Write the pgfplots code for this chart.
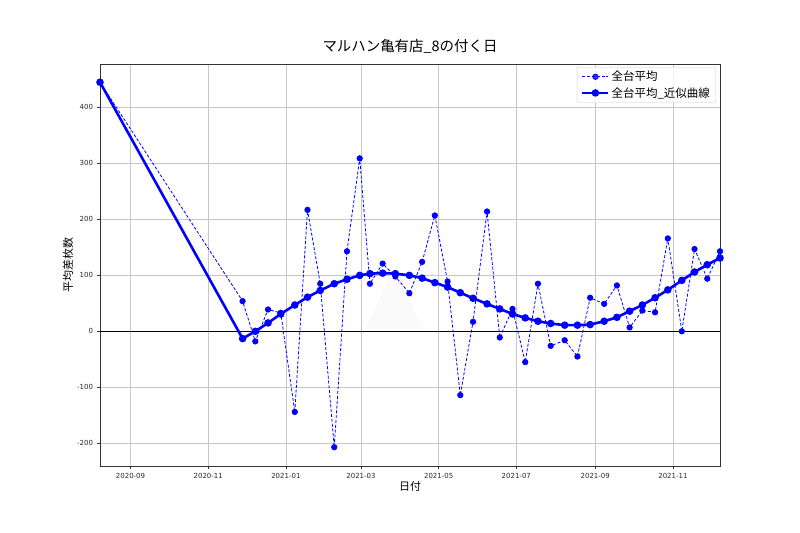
\documentclass[border=0pt]{standalone}
\usepackage{fontspec}
\setmainfont{Noto Sans CJK JP}
\newfontfamily\dejavu{DejaVu Sans}
\usepackage{pgfplots}
\pgfplotsset{compat=1.18}

% x = days since 2020-09-01
\pgfplotstableread{
d    avg
-24  445
88   54
98   -18
108  39
118  33
129  -144
139  217
149  85
160  -207
170  143
180  309
188  85
198  121
208  98
219  68
229  124
239  207
249  89
259  -114
269  17
280  214
290  -11
300  40
310  -55
320  85
330  -26
341  -16
351  -45
361  60
372  49
382  82
392  7
402  37
412  34
422  166
433  0
443  147
453  94
463  143
}\avgdata

\pgfplotstableread{
d    fit
-24  445
88   -13
98   0
108  15
118  31
129  47
139  61
149  73
160  85
170  93
180  100
188  103
198  104
208  103
219  100
229  95
239  87
249  79
259  69
269  59
280  49
290  40
300  31
310  24
320  18
330  14
341  11
351  11
361  12
372  18
382  25
392  36
402  47
412  60
422  74
433  91
443  106
453  119
463  131
}\fitdata

\begin{document}
\begin{tikzpicture}[x=1bp,y=1bp]
\useasboundingbox (0,0) rectangle (800,533);
\begin{axis}[
    at={(100bp,67bp)}, anchor=south west,
    width=620bp, height=402bp, scale only axis,
    xmin=-24, xmax=463, ymin=-240.6, ymax=477.6,
    xtick={0,61,122,181,242,303,365,426},
    xticklabels={2020-09,2020-11,2021-01,2021-03,2021-05,2021-07,2021-09,2021-11},
    ytick={-200,-100,0,100,200,300,400},
    xtick pos=bottom, ytick pos=left,
    grid=major,
    major grid style={color=black!22, line width=0.7bp},
    tick align=outside,
    major tick length=3.5bp,
    tick style={black!80, line width=0.6bp},
    axis line style={black!80, line width=0.8bp},
    ticklabel style={font=\dejavu\fontsize{7}{8}\selectfont, text=black!85},
    /pgf/number format/assume math mode=true,
    title={マルハン亀有店\_8の付く日},
    title style={font=\fontsize{14.5}{16}\selectfont, at={(axis description cs:0.5,1)}, anchor=south, yshift=1bp},
    xlabel={日付},
    ylabel={平均差枚数},
    every axis x label/.style={at={(axis description cs:0.5,0)}, anchor=center, yshift=-20bp, font=\fontsize{11}{13}\selectfont},
    every axis y label/.style={at={(axis description cs:0,0.5)}, anchor=center, xshift=-32bp, rotate=90, font=\fontsize{11}{13}\selectfont},
    legend style={at={(0.9935,0.9925)}, anchor=north east, draw=black!20,
        rounded corners=2bp, fill=white, fill opacity=0.8, text opacity=1,
        font=\fontsize{11.5}{13}\selectfont, row sep=1bp, inner xsep=4bp, inner ysep=2bp},
    legend cell align=left,
    legend image code/.code={\draw[mark repeat=2,mark phase=2,#1] plot coordinates {(0bp,0bp) (13bp,0bp) (26bp,0bp)};},
]

% faint triangle in the background
\fill[black!2] (axis cs:184,3) -- (axis cs:206,110) -- (axis cs:231,3) -- cycle;

\addplot[black, line width=1.2bp, forget plot] coordinates {(-24,0) (463,0)};

\addplot[blue, line width=0.8bp, dash pattern=on 3bp off 1.8bp,
    mark=*, mark size=2.7bp, mark options={solid}] table[x=d, y=avg] {\avgdata};

\addplot[blue, line width=2.6bp,
    mark=*, mark size=2.4bp] table[x=d, y=fit] {\fitdata};

\legend{全台平均, 全台平均\_近似曲線}
\end{axis}
\end{tikzpicture}
\end{document}
